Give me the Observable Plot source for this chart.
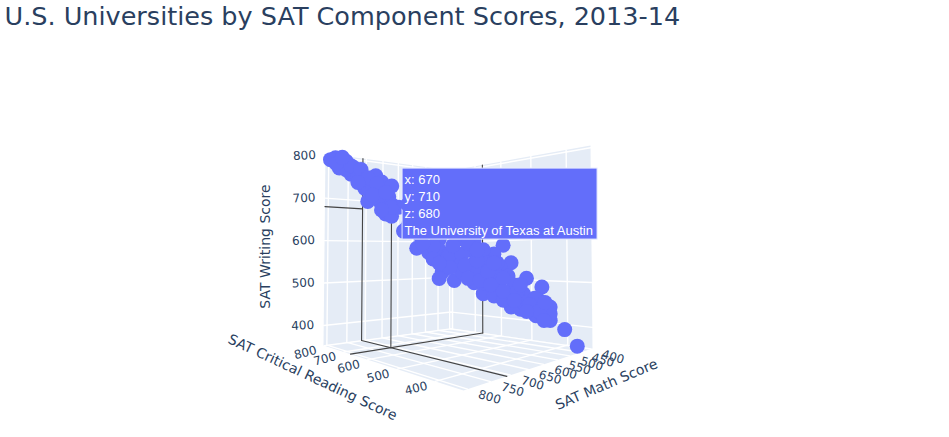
<!DOCTYPE html>
<html><head><meta charset="utf-8">
<script src="https://cdn.jsdelivr.net/npm/d3@7"></script>
<script src="https://cdn.jsdelivr.net/npm/@observablehq/plot@0.6"></script>
<style>html,body{margin:0;padding:0;background:#fff}</style>
</head><body><div id="chart"></div>
<script>
const titleText = "U.S. Universities by SAT Component Scores, 2013-14";
const mathScores = [790,800,775,785,760,765,745,725,745,715,700,740,725,705,710,700,775,755,730,720,710,675,655,625,595,570,660,640,620,625,600,525,515,540,560,490,465,570,555,540,515,500,470,455,455,475,435,415,625,605,580,555,620,595,570,550,530,590,565,540,520,555,535,510,520,495,480,500,480,465,690,680,455,635,610,495,525,
  765,750,740,725,730,710,755,700,790,780,715,650,635,610,610,590,585,580,565,560,550,545,535,525,525,505,500,485,510,470,460,465,490,605,580,540,625,565];
const readingScores = [790,795,765,780,755,760,735,715,730,705,685,725,710,690,695,685,765,745,720,705,670,655,635,600,565,540,640,620,595,600,575,490,475,505,525,450,425,540,525,505,475,460,430,410,410,435,385,365,600,575,550,525,595,565,540,515,495,560,535,505,480,525,500,470,480,455,435,465,435,420,670,665,410,610,585,455,490,
  760,740,725,710,720,695,745,685,785,775,705,630,610,585,580,560,555,550,535,530,515,510,500,490,490,465,460,445,470,430,420,420,450,575,550,505,600,535];
const writingScores = [795,790,785,770,770,755,745,750,720,735,725,690,705,700,660,655,765,750,725,690,680,630,610,600,600,595,580,570,525,510,505,585,545,565,565,510,490,500,475,470,445,440,460,445,415,425,395,358,575,575,575,575,545,545,545,545,535,525,525,525,515,500,500,495,470,475,465,460,440,430,675,620,430,585,565,455,460,
  775,765,745,730,705,710,735,675,780,795,670,590,555,560,535,565,540,510,550,505,525,495,545,510,480,480,495,450,460,435,455,415,435,585,590,545,545,575];
const hoverName = "The University of Texas at Austin";
const hoverMath = 710, hoverReading = 670, hoverWriting = 680;
const mathTicks = [400,450,500,550,600,650,700,750,800];
const readingTicks = [400,500,600,700,800];
const writingTicks = [400,500,600,700,800];
const inkColor = "#2a3f5f", wallColor = "#E5ECF6", dotColor = "#636efa", spikeColor = "#444";
const mathRange = [392,808], readingRange = [340,805], writingRange = [353,805];

// Camera: where the box corners land on the page
const floorQuad = [[323,345],[451,328],[592,348],[463,390]];
const roofQuad  = [[325,153],[451,170],[590,145],[463,100]];
function homography(q){
  const [[x0,y0],[x1,y1],[x2,y2],[x3,y3]] = q;
  const dx1=x1-x2,dx2=x3-x2,sx=x0-x1+x2-x3,dy1=y1-y2,dy2=y3-y2,sy=y0-y1+y2-y3;
  const den=dx1*dy2-dx2*dy1, g=(sx*dy2-dx2*sy)/den, h=(dx1*sy-sx*dy1)/den;
  return (u,v)=>{const w=1+g*u+h*v;
    return [((x1-x0+g*x1)*u+(x3-x0+h*x3)*v+x0)/w, ((y1-y0+g*y1)*u+(y3-y0+h*y3)*v+y0)/w];};
}
const H0=homography(floorQuad), H1=homography(roofQuad);
const uOf=m=>(mathRange[1]-m)/(mathRange[1]-mathRange[0]);
const vOf=r=>(readingRange[1]-r)/(readingRange[1]-readingRange[0]);
const zOf=w=>(w-writingRange[0])/(writingRange[1]-writingRange[0]);
function uvz(u,v,z){const a=H0(u,v),b=H1(u,v);return {x:a[0]+(b[0]-a[0])*z,y:a[1]+(b[1]-a[1])*z};}
const project=(m,r,w)=>uvz(uOf(m),vOf(r),zOf(w));

// Box faces
const face=(id,pts)=>pts.map(p=>({id,...uvz(...p)}));
const faces=[
  ...face("floor",[[0,0,0],[1,0,0],[1,1,0],[0,1,0],[0,0,0]]),
  ...face("left",[[0,0,0],[1,0,0],[1,0,1],[0,0,1],[0,0,0]]),
  ...face("right",[[1,0,0],[1,1,0],[1,1,1],[1,0,1],[1,0,0]])
];
// Grid lines
const grid=[]; let gid=0;
const seg=(a,b,arr=grid)=>{gid++;arr.push({id:gid,...uvz(...a)},{id:gid,...uvz(...b)});};
const poly=(pts)=>{gid++;pts.forEach(p=>grid.push({id:gid,...uvz(...p)}));};
for(const m of mathTicks){const u=uOf(m);poly([[u,1,0],[u,0,0],[u,0,1]]);}
for(const r of readingTicks){const v=vOf(r);poly([[0,v,0],[1,v,0],[1,v,1]]);}
for(const w of writingTicks){const z=zOf(w);poly([[0,0,z],[1,0,z],[1,1,z]]);}
// Spike lines through the hovered university
const spikes=[];
{const u=uOf(hoverMath),v=vOf(hoverReading),z=zOf(hoverWriting);
 seg([0,v,0],[1,v,0],spikes); seg([u,0,0],[u,1,0],spikes);
 seg([u,v,0],[u,v,z],spikes); seg([u,0,0],[u,0,1],spikes); seg([1,v,0],[1,v,1],spikes);
 seg([0,0,z],[u,0,z],spikes); seg([1,0,z],[1,v,z],spikes);}

const points=mathScores.map((m,i)=>project(m,readingScores[i],writingScores[i]));
const hp=project(hoverMath,hoverReading,hoverWriting);
const box={x1:hp.x+11,x2:hp.x+206,y1:hp.y-36,y2:hp.y+35};
const hoverLines=[`x: ${hoverReading}`,`y: ${hoverMath}`,`z: ${hoverWriting}`,hoverName]
  .map((text,i)=>({text,x:box.x1+2,y:box.y1+11+i*17}));
const pointer=[{x:hp.x+5,y:hp.y},{x:box.x1+1,y:hp.y-6},{x:box.x1+1,y:hp.y+6},{x:hp.x+5,y:hp.y}];

const zLabels=writingTicks.map(w=>({t:String(w),...uvz(0,0,zOf(w))}));
const rLabels=readingTicks.map(r=>({t:String(r),...uvz(0,vOf(r),0)}));
const mLabels=mathTicks.map(m=>({t:String(m),...uvz(uOf(m),1,0)}));
const font='"DejaVu Sans", Verdana, sans-serif';
const tick=(data,dx,dy,rotate)=>Plot.text(data,{x:"x",y:"y",text:"t",dx,dy,rotate,fontSize:12,fill:inkColor,fontFamily:font});
const label=(t,x,y,rotate)=>Plot.text([t],{x:()=>x,y:()=>y,text:d=>d,rotate,fontSize:14,fill:inkColor,fontFamily:font});

const chart=Plot.plot({
  width:949,height:437,margin:0,
  x:{domain:[0,949],range:[0,949],axis:null},
  y:{domain:[0,437],range:[0,437],axis:null},
  style:{background:"#fff",fontFamily:font},
  marks:[
    Plot.line(faces,{x:"x",y:"y",z:"id",fill:wallColor,stroke:"none"}),
    Plot.line(grid,{x:"x",y:"y",z:"id",stroke:"#fff",strokeWidth:1.4,curve:"linear"}),
    Plot.line(spikes,{x:"x",y:"y",z:"id",stroke:spikeColor,strokeWidth:1.1}),
    Plot.dot(points,{x:"x",y:"y",r:7.5,fill:dotColor,stroke:dotColor,strokeWidth:0}),
    tick(zLabels,-21,0,-3),
    tick(rLabels,-19,7,-14),
    tick(mLabels,22,8,16),
    label("SAT Writing Score",265,246,-90),
    label("SAT Critical Reading Score",312,377,25),
    label("SAT Math Score",606,384,-23),
    Plot.text([titleText],{x:()=>4,y:()=>16,text:d=>d,textAnchor:"start",fontSize:25.5,fill:inkColor,fontFamily:font}),
    Plot.rect([box],{x1:"x1",x2:"x2",y1:"y1",y2:"y2",fill:dotColor,stroke:"#e8eaff",strokeWidth:1}),
    Plot.line(pointer,{x:"x",y:"y",fill:dotColor,stroke:"none"}),
    Plot.text(hoverLines,{x:"x",y:"y",text:"text",textAnchor:"start",fontSize:13,fill:"#fff",fontFamily:'"Liberation Sans", Arial, sans-serif'})
  ]
});
document.getElementById("chart").appendChild(chart);
</script></body></html>
